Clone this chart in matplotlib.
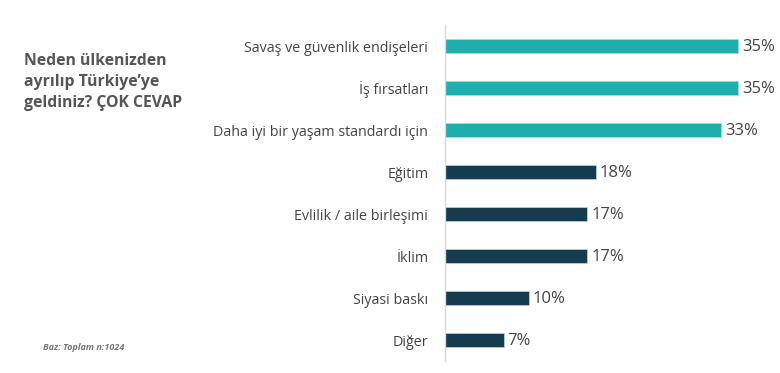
import matplotlib.pyplot as plt

categories = ["Savaş ve güvenlik endişeleri", "İş fırsatları", "Daha iyi bir yaşam standardı için",
              "Eğitim", "Evlilik / aile birleşimi", "İklim", "Siyasi baskı", "Diğer"]
values = [35, 35, 33, 18, 17, 17, 10, 7]
colors = ["#1CAFAB"] * 3 + ["#143B4E"] * 5

plt.rcParams['font.family'] = ['Open Sans', 'DejaVu Sans']

fig = plt.figure(figsize=(7.8, 3.73), dpi=100)
ax = fig.add_axes([445 / 780, 12 / 373, 335 / 780, 336 / 373])

y = list(range(len(categories)))
ax.barh(y, values, height=0.31, color=colors, edgecolor="#A8D8DA", linewidth=0.6)
ax.set_xlim(0, 40)
ax.set_ylim(len(categories) - 0.5, -0.5)

for i, v in enumerate(values):
    ax.text(v + 0.45, i + 0.03, f"{v}%", va="center", ha="left", fontsize=12, color="#444444")

ax.set_yticks(y)
ax.set_yticklabels(categories, fontsize=10.3, color="#444444")
ax.tick_params(axis="y", length=0, pad=12)
ax.set_xticks([])
for s in ["top", "right", "bottom"]:
    ax.spines[s].set_visible(False)
ax.spines["left"].set_color("#D9D9D9")
ax.spines["left"].set_linewidth(1)

fig.text(24 / 780, 1 - 82 / 373, "Neden ülkenizden\nayrılıp Türkiye’ye\ngeldiniz? ÇOK CEVAP",
         fontsize=11.3, fontweight="bold", color="#555555", va="center", ha="left", linespacing=1.45)
fig.text(43 / 780, 1 - 347 / 373, "Baz: Toplam n:1024", fontsize=6.5, style="italic",
         fontweight="bold", color="#777777", va="center", ha="left")

fig.savefig("out.png", dpi=100)
